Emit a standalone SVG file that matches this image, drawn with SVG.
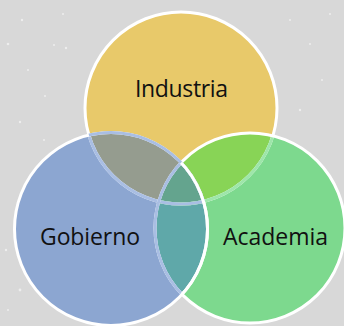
<svg xmlns="http://www.w3.org/2000/svg" width="344" height="326" viewBox="0 0 344 326">
<style>
.lbl{font-family:"Open Sans","Liberation Sans",sans-serif;font-size:23px;fill:#111;text-anchor:middle}
.ws{fill:none;stroke:#fff;stroke-width:3}
.lb{fill:none;stroke:#A9BEE3;stroke-width:3}
.lg{fill:none;stroke:#9EE6AA;stroke-width:3}
.dot{fill:#fff;opacity:.55}
</style>
<defs>
<clipPath id="cA"><circle cx="181" cy="108" r="96"/></clipPath>
<clipPath id="cB"><circle cx="111" cy="229" r="96.5"/></clipPath>
<clipPath id="cC"><circle cx="250" cy="228" r="95"/></clipPath>
</defs>
<rect width="344" height="326" fill="#D8D8D8"/>
<g id="bg-specks">
<circle class="dot" cx="22" cy="20" r="1.2"/><circle class="dot" cx="63" cy="14" r="1"/><circle class="dot" cx="8" cy="44" r="1.3"/>
<circle class="dot" cx="54" cy="45" r="1"/><circle class="dot" cx="66" cy="48" r="1.2"/><circle class="dot" cx="310" cy="44" r="1"/>
<circle class="dot" cx="330" cy="14" r="1"/><circle class="dot" cx="290" cy="20" r="1"/><circle class="dot" cx="20" cy="122" r="1.2"/>
<circle class="dot" cx="44" cy="140" r="1"/><circle class="dot" cx="6" cy="250" r="1.2"/><circle class="dot" cx="20" cy="290" r="1.4"/>
<circle class="dot" cx="8" cy="310" r="1"/><circle class="dot" cx="322" cy="80" r="1"/><circle class="dot" cx="300" cy="110" r="1.2"/>
<circle class="dot" cx="338" cy="200" r="1"/><circle class="dot" cx="45" cy="96" r="1"/><circle class="dot" cx="28" cy="70" r="1"/>
</g>
<g id="node-industria">
<circle cx="181" cy="108" r="96" fill="#E8C96A"/>
</g>
<g id="node-gobierno">
<circle cx="111" cy="229" r="96.5" fill="#8CA6D1"/>
</g>
<g id="node-academia">
<circle cx="250" cy="228" r="95" fill="#7DD98E"/>
</g>
<g id="overlaps">
<circle cx="181" cy="108" r="96" fill="#959C8F" clip-path="url(#cB)"/>
<circle cx="181" cy="108" r="96" fill="#88D456" clip-path="url(#cC)"/>
<circle cx="111" cy="229" r="96.5" fill="#5FA8A9" clip-path="url(#cC)"/>
<g clip-path="url(#cC)"><circle cx="181" cy="108" r="96" fill="#64A48E" clip-path="url(#cB)"/></g>
</g>
<g id="connectors">
<circle class="ws" cx="181" cy="108" r="96"/>
<circle class="lg" cx="181" cy="108" r="96" clip-path="url(#cC)"/>
<circle class="lb" cx="181" cy="108" r="96" clip-path="url(#cB)"/>
<circle class="ws" cx="250" cy="228" r="95"/>
<circle class="lb" cx="250" cy="228" r="95" clip-path="url(#cB)"/>
<circle class="ws" cx="111" cy="229" r="96.5"/>
<circle class="lb" cx="111" cy="229" r="96.5" clip-path="url(#cA)"/>
<circle class="ws" cx="111" cy="229" r="96.5" clip-path="url(#cC)"/>
</g>
<text class="lbl" x="181.5" y="97" textLength="93">Industria</text>
<text class="lbl" x="90" y="245" textLength="100">Gobierno</text>
<text class="lbl" x="275.5" y="245" textLength="105">Academia</text>
</svg>
